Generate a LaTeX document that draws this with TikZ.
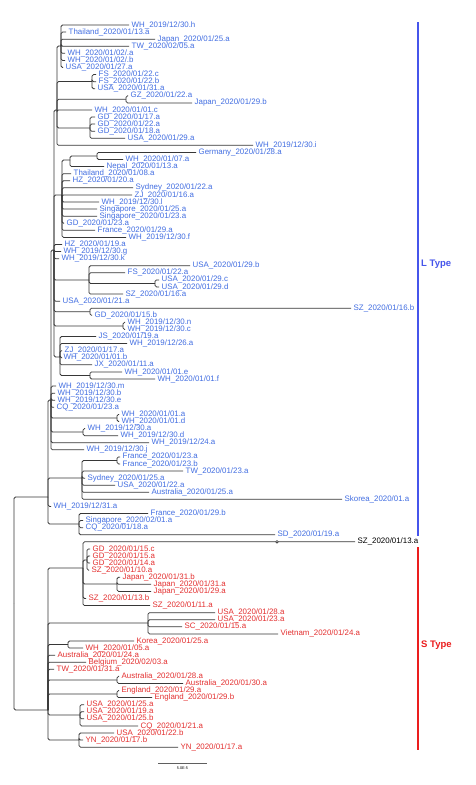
\documentclass[tikz,border=0pt]{standalone}
\usepackage{fontspec}
\setmainfont{Liberation Sans}
\definecolor{lblue}{RGB}{66,110,226}
\definecolor{lred}{RGB}{228,48,48}
\definecolor{barblue}{RGB}{70,85,235}
\definecolor{barred}{RGB}{235,30,30}
\definecolor{brc}{RGB}{55,55,55}
\tikzset{
 br/.style={draw=brc, line width=0.75pt, rounded corners=1.5pt},
 lbl/.style={anchor=west, inner sep=0pt, xshift=2.5pt, font=\fontsize{7.9}{8}\selectfont},
 typelbl/.style={anchor=west, inner sep=0pt, font=\bfseries\fontsize{9.5}{10}\selectfont},
 typebar/.style={line width=1.3pt},
}
\newcommand\ND[4]{\coordinate (#1) at (#3,#4); \draw[br] (#2) |- (#1);}
\newcommand\LF[5]{\coordinate (l#1) at (#3,{25+(#1-1)*7.08}); \draw[br] (#2) |- (l#1); \node[lbl,text=#4] (t#1) at (l#1) {#5};}
\begin{document}
\begin{tikzpicture}[x=1pt,y=-1pt]
\fill[white] (0,0) rectangle (475,785);
\useasboundingbox (0,0) rectangle (475,785);
\coordinate (root) at (14,603);
\ND{nL}{root}{48}{497}
\ND{nS}{root}{48}{710}
\ND{nL2}{nL}{51}{400}
\ND{nL3}{nL2}{54}{250}
\ND{nL4}{nL3}{57}{110}
\ND{nL5}{nL4}{61}{46}
% top group
\LF{1}{nL5}{129}{lblue}{WH\_2019/12/30.h}
\LF{2}{nL5}{66}{lblue}{Thailand\_2020/01/13.a}
\LF{3}{nL5}{155}{lblue}{Japan\_2020/01/25.a}
\LF{4}{nL5}{129}{lblue}{TW\_2020/02/05.a}
\LF{5}{nL5}{65}{lblue}{WH\_2020/01/02/.a}
\LF{6}{nL5}{65}{lblue}{WH\_2020/01/02/.b}
\LF{7}{nL5}{63}{lblue}{USA\_2020/01/27.a}
\ND{cFS}{nL4}{92}{81.6}
\LF{8}{cFS}{96}{lblue}{FS\_2020/01/22.c}
\LF{9}{cFS}{96}{lblue}{FS\_2020/01/22.b}
\LF{10}{cFS}{95}{lblue}{USA\_2020/01/31.a}
\ND{cGZ}{nL4}{126}{99.3}
\LF{11}{cGZ}{128}{lblue}{GZ\_2020/01/22.a}
\LF{12}{cGZ}{192}{lblue}{Japan\_2020/01/29.b}
\LF{13}{nL4}{92}{lblue}{WH\_2020/01/01.c}
\ND{cGD}{nL4}{90}{128}
\LF{14}{cGD}{95}{lblue}{GD\_2020/01/17.a}
\LF{15}{cGD}{95}{lblue}{GD\_2020/01/22.a}
\LF{16}{cGD}{95}{lblue}{GD\_2020/01/18.a}
\LF{17}{cGD}{125}{lblue}{USA\_2020/01/29.a}
\LF{18}{nL4}{253}{lblue}{WH\_2019/12/30.i}
% clade B
\ND{cB}{nL3}{62}{195}
\ND{cGN}{cB}{70}{160}
\ND{cGW}{cGN}{97}{156}
\LF{19}{cGW}{196}{lblue}{Germany\_2020/01/28.a}
\LF{20}{cGW}{123}{lblue}{WH\_2020/01/07.a}
\LF{21}{cGN}{104}{lblue}{Nepal\_2020/01/13.a}
\LF{22}{cB}{71}{lblue}{Thailand\_2020/01/08.a}
\LF{23}{cB}{70}{lblue}{HZ\_2020/01/20.a}
\LF{24}{cB}{133}{lblue}{Sydney\_2020/01/22.a}
\LF{25}{cB}{132}{lblue}{ZJ\_2020/01/16.a}
\LF{26}{cB}{99}{lblue}{WH\_2019/12/30.l}
\LF{27}{cB}{97}{lblue}{Singapore\_2020/01/25.a}
\LF{28}{cB}{97}{lblue}{Singapore\_2020/01/23.a}
\LF{29}{cB}{64}{lblue}{GD\_2020/01/23.a}
\LF{30}{cB}{95}{lblue}{France\_2020/01/29.a}
\LF{31}{cB}{126}{lblue}{WH\_2019/12/30.f}
\LF{32}{nL3}{62}{lblue}{HZ\_2020/01/19.a}
\LF{33}{nL3}{61}{lblue}{WH\_2019/12/30.g}
\LF{34}{nL3}{59}{lblue}{WH\_2019/12/30.k}
% clade C
\ND{cC}{nL3}{89}{280}
\LF{35}{cC}{190}{lblue}{USA\_2020/01/29.b}
\LF{36}{cC}{125}{lblue}{FS\_2020/01/22.a}
\ND{cCD}{cC}{155}{283.5}
\LF{37}{cCD}{159}{lblue}{USA\_2020/01/29.c}
\LF{38}{cCD}{159}{lblue}{USA\_2020/01/29.d}
\LF{39}{cC}{123}{lblue}{SZ\_2020/01/16.a}
\LF{40}{nL3}{60}{lblue}{USA\_2020/01/21.a}
\ND{cSG}{nL3}{90}{311.7}
\LF{41}{cSG}{351}{lblue}{SZ\_2020/01/16.b}
\LF{42}{cSG}{92}{lblue}{GD\_2020/01/15.b}
\ND{cNC}{nL3}{123}{326}
\LF{43}{cNC}{125}{lblue}{WH\_2019/12/30.n}
\LF{44}{cNC}{125}{lblue}{WH\_2019/12/30.c}
\ND{cE}{nL3}{60}{357}
\LF{45}{cE}{96}{lblue}{JS\_2020/01/19.a}
\LF{46}{cE}{127}{lblue}{WH\_2019/12/26.a}
\LF{47}{cE}{62}{lblue}{ZJ\_2020/01/17.a}
\LF{48}{cE}{61}{lblue}{WH\_2020/01/01.b}
\LF{49}{cE}{92}{lblue}{JX\_2020/01/11.a}
\ND{cEF}{cE}{90}{375.5}
\LF{50}{cEF}{122}{lblue}{WH\_2020/01/01.e}
\LF{51}{cEF}{155}{lblue}{WH\_2020/01/01.f}
% nL2
\LF{52}{nL2}{56}{lblue}{WH\_2019/12/30.m}
\LF{53}{nL2}{55}{lblue}{WH\_2019/12/30.b}
\LF{54}{nL2}{55}{lblue}{WH\_2019/12/30.e}
\LF{55}{nL2}{54}{lblue}{CQ\_2020/01/23.a}
\ND{cAD}{nL2}{117}{418}
\LF{56}{cAD}{119}{lblue}{WH\_2020/01/01.a}
\LF{57}{cAD}{119}{lblue}{WH\_2020/01/01.d}
\ND{cA2}{nL2}{83}{432}
\LF{58}{cA2}{85}{lblue}{WH\_2019/12/30.a}
\LF{59}{cA2}{118}{lblue}{WH\_2019/12/30.d}
\LF{60}{nL2}{149}{lblue}{WH\_2019/12/24.a}
\LF{61}{nL2}{84}{lblue}{WH\_2019/12/30.j}
% nL
\ND{cD}{nL}{82}{478}
\ND{cFr}{cD}{117}{460.5}
\LF{62}{cFr}{120}{lblue}{France\_2020/01/23.a}
\LF{63}{cFr}{120}{lblue}{France\_2020/01/23.b}
\LF{64}{cD}{183}{lblue}{TW\_2020/01/23.a}
\LF{65}{cD}{85}{lblue}{Sydney\_2020/01/25.a}
\LF{66}{cD}{115}{lblue}{USA\_2020/01/22.a}
\LF{67}{cD}{149}{lblue}{Australia\_2020/01/25.a}
\LF{68}{cD}{342}{lblue}{Skorea\_2020/01.a}
\LF{69}{nL}{51}{lblue}{WH\_2019/12/31.a}
\ND{cF}{nL}{79}{524}
\LF{70}{cF}{148}{lblue}{France\_2020/01/29.b}
\LF{71}{cF}{83}{lblue}{Singapore\_2020/02/01.a}
\LF{72}{cF}{83}{lblue}{CQ\_2020/01/18.a}
\LF{73}{cF}{275}{lblue}{SD\_2020/01/19.a}
% S clade
\ND{cS1}{nS}{83}{568}
\LF{74}{cS1}{355}{black}{SZ\_2020/01/13.a}
\node[circle, draw=brc, fill=white, inner sep=0pt, minimum size=2.6pt, line width=0.6pt] (brk) at (277,541.8) {};
\ND{cGD2}{cS1}{87}{560}
\LF{75}{cGD2}{90}{lred}{GD\_2020/01/15.c}
\LF{76}{cGD2}{90}{lred}{GD\_2020/01/15.a}
\LF{77}{cGD2}{90}{lred}{GD\_2020/01/14.a}
\LF{78}{cGD2}{89}{lred}{SZ\_2020/01/10.a}
\ND{cJ}{cS1}{117}{584}
\LF{79}{cJ}{120}{lred}{Japan\_2020/01/31.b}
\LF{80}{cJ}{151}{lred}{Japan\_2020/01/31.a}
\LF{81}{cJ}{151}{lred}{Japan\_2020/01/29.a}
\LF{82}{cS1}{86}{lred}{SZ\_2020/01/13.b}
\LF{83}{cS1}{150}{lred}{SZ\_2020/01/11.a}
\ND{cUS}{nS}{148}{623}
\LF{84}{cUS}{215}{lred}{USA\_2020/01/28.a}
\LF{85}{cUS}{215}{lred}{USA\_2020/01/23.a}
\LF{86}{cUS}{182}{lred}{SC\_2020/01/15.a}
\LF{87}{cUS}{278}{lred}{Vietnam\_2020/01/24.a}
\ND{cK}{nS}{68}{644.5}
\LF{88}{cK}{134}{lred}{Korea\_2020/01/25.a}
\LF{89}{cK}{83}{lred}{WH\_2020/01/05.a}
\LF{90}{nS}{55}{lred}{Australia\_2020/01/24.a}
\LF{91}{nS}{86}{lred}{Belgium\_2020/02/03.a}
\LF{92}{nS}{54}{lred}{TW\_2020/01/31.a}
\ND{cAu}{nS}{117}{680}
\LF{93}{cAu}{119}{lred}{Australia\_2020/01/28.a}
\LF{94}{cAu}{183}{lred}{Australia\_2020/01/30.a}
\ND{cEn}{nS}{117}{694}
\LF{95}{cEn}{119}{lred}{England\_2020/01/29.a}
\LF{96}{cEn}{152}{lred}{England\_2020/01/29.b}
\ND{cU}{nS}{80}{715}
\LF{97}{cU}{84}{lred}{USA\_2020/01/25.a}
\LF{98}{cU}{84}{lred}{USA\_2020/01/19.a}
\LF{99}{cU}{84}{lred}{USA\_2020/01/25.b}
\LF{100}{cU}{138}{lred}{CQ\_2020/01/21.a}
\ND{cY}{nS}{79}{740}
\LF{101}{cY}{114}{lred}{USA\_2020/01/22.b}
\LF{102}{cY}{83}{lred}{YN\_2020/01/17.b}
\LF{103}{cY}{178}{lred}{YN\_2020/01/17.a}
% type bars
\coordinate (Lt) at (418,22);
\coordinate (Lb) at (418,536);
\draw[typebar, barblue] (Lt) -- (Lb);
\node[typelbl, text=barblue] (Ltxt) at (421,264) {L Type};
\coordinate (St) at (418,547);
\coordinate (Sb) at (418,750);
\draw[typebar, barred] (St) -- (Sb);
\node[typelbl, text=barred] (Stxt) at (421,645) {S Type};
% scale bar
\coordinate (sc1) at (158,763);
\coordinate (sc2) at (207,763);
\draw[line width=1pt, brc!80] (sc1) -- (sc2);
\node[inner sep=0pt, font=\fontsize{3.8}{4}\selectfont] (sclab) at (182.5,768.5) {5.0E-5};
\end{tikzpicture}
\end{document}
